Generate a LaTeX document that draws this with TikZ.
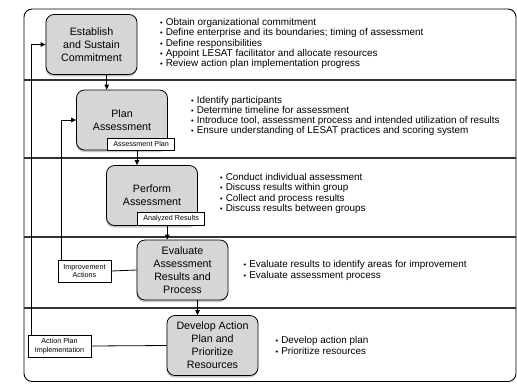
\documentclass[tikz,border=0pt]{standalone}
\usepackage{fontspec}
\setmainfont{Liberation Sans}
\usetikzlibrary{arrows.meta,shadows,calc}

% small list dot followed by a fixed gap
\newcommand\dotitem{{\fontsize{7.5bp}{7.5bp}\selectfont•}\hspace{3bp}}

\tikzset{
  stepbox/.style={draw=black, line width=0.8bp, fill=gray!32, rounded corners=8bp,
    minimum width=91bp, minimum height=60bp, align=center, inner sep=2bp,
    font=\fontsize{10.7bp}{13bp}\selectfont,
    drop shadow={shadow xshift=-0.5bp, shadow yshift=-2bp, opacity=0.45}},
  tagbox/.style={draw=black, line width=0.6bp, fill=white, align=center, inner sep=1bp,
    font=\fontsize{7.2bp}{8.4bp}\selectfont},
  bullets/.style={anchor=west, align=left, inner sep=0pt,
    font=\fontsize{9.9bp}{10.2bp}\selectfont},
  flow/.style={draw=black, line width=0.8bp, -{Triangle[length=5bp,width=4.5bp]}},
  link/.style={draw=black, line width=0.8bp},
  divider/.style={draw=gray!40!black, line width=1.2bp}
}

\begin{document}
\begin{tikzpicture}[x=1bp, y=-1bp]
\useasboundingbox (0,0) rectangle (517,383);

% outer frame and phase dividers
\draw[line width=0.9bp, rounded corners=8bp] (24,9) rectangle (516,381.5);
\foreach \yy in {80,158,237,308}
  \draw[divider] (24,\yy) -- (516,\yy);

% process steps
\node[stepbox] (est)  at (91.5,44.5)  {Establish\\and Sustain\\Commitment};
\node[stepbox] (plan) at (122,120)    {Plan\\Assessment};
\node[stepbox] (perf) at (152,195.5)  {Perform\\Assessment};
\node[stepbox] (eval) at (182.5,270)  {Evaluate\\Assessment\\Results and\\Process};
\node[stepbox] (dev)  at (212.5,345.5){Develop Action\\Plan and\\Prioritize\\Resources};

% outputs attached to steps
\node[tagbox, minimum width=67bp, minimum height=12bp, anchor=south east]
  (aplan) at ([xshift=7bp]plan.south east) {Assessment Plan};
\node[tagbox, minimum width=67bp, minimum height=13bp, anchor=south east]
  (ares) at ([xshift=7bp]perf.south east) {Analyzed Results};
\node[tagbox, minimum width=53bp, minimum height=22bp] (impr) at (84.5,271)
  {Improvement\\Actions};
\node[tagbox, minimum width=63bp, minimum height=22bp] (apimp) at (59.5,346)
  {Action Plan\\Implementation};

% activities per step
\node[bullets] (b1) at (160,43.5) {\dotitem Obtain organizational commitment\\
  \dotitem Define enterprise and its boundaries; timing of assessment\\
  \dotitem Define responsibilities\\
  \dotitem Appoint LESAT facilitator and allocate resources\\
  \dotitem Review action plan implementation progress};
\node[bullets] (b2) at (191,116) {\dotitem Identify participants\\
  \dotitem Determine timeline for assessment\\
  \dotitem Introduce tool, assessment process and intended utilization of results\\
  \dotitem Ensure understanding of LESAT practices and scoring system};
\node[bullets] (b3) at (220,193.5) {\dotitem Conduct individual assessment\\
  \dotitem Discuss results within group\\
  \dotitem Collect and process results\\
  \dotitem Discuss results between groups};
\node[bullets] (b4) at (243.5,270.5) {\dotitem Evaluate results to identify areas for improvement\\
  \dotitem Evaluate assessment process};
\node[bullets] (b5) at (275.5,345.5) {\dotitem Develop action plan\\
  \dotitem Prioritize resources};

% forward flow between steps
\coordinate (m1) at ($(est.south east)!0.5!(plan.north west)$);
\coordinate (m2) at ($(plan.south east)!0.5!(perf.north west)$);
\coordinate (m3) at ($(perf.south east)!0.5!(eval.north west)$);
\coordinate (m4) at ($(eval.south east)!0.5!(dev.north west)$);
\draw[flow] (est.south -| m1) -- (plan.north -| m1);
\draw[flow] (aplan.south -| m2) -- (perf.north -| m2);
\draw[flow] (ares.south -| m3) -- (eval.north -| m3);
\draw[flow] (eval.south -| m4) -- (dev.north -| m4);

% feedback loops
\draw[link] (eval.west) -- (impr.east);
\draw[flow] ([xshift=4bp]impr.north west) |- (plan.west);
\draw[link] (dev.west) -- (apimp.east);
\draw[flow] ([xshift=4bp]apimp.north west) |- (est.west);
\end{tikzpicture}
\end{document}
